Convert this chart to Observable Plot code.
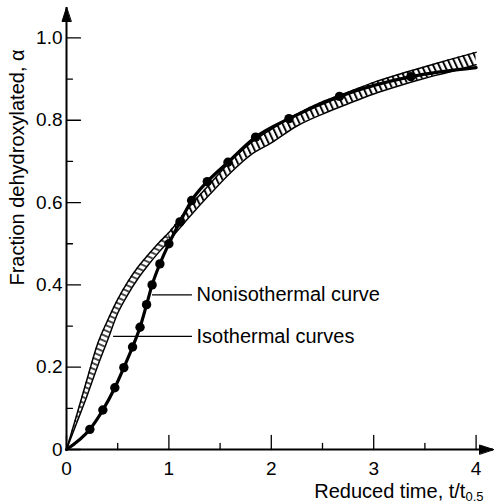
<!DOCTYPE html>
<html><head><meta charset="utf-8">
<script src="https://cdn.jsdelivr.net/npm/d3@7"></script>
<script src="https://cdn.jsdelivr.net/npm/@observablehq/plot@0.6"></script>
<style>
html,body{margin:0;padding:0;background:#fff;}
#chart svg{display:block;}
</style></head><body><div id="chart"></div>
<script>
// Isothermal curves: hatched band between an upper and a lower curve
const bandT     = [0, 0.1, 0.2, 0.3, 0.4, 0.5, 0.6, 0.7, 0.8, 0.9, 1.0, 1.2, 1.4, 1.6, 1.8, 2.0, 2.25, 2.5, 2.75, 3.0, 3.25, 3.5, 3.75, 4.0];
const bandUpper = [0, 0.084, 0.170, 0.254, 0.313, 0.365, 0.408, 0.444, 0.474, 0.502, 0.527, 0.590, 0.645, 0.700, 0.745, 0.778, 0.815, 0.845, 0.868, 0.892, 0.912, 0.930, 0.948, 0.965];
const bandLower = [0, 0.065, 0.130, 0.200, 0.265, 0.331, 0.377, 0.416, 0.449, 0.479, 0.507, 0.565, 0.620, 0.672, 0.716, 0.745, 0.786, 0.815, 0.840, 0.864, 0.884, 0.902, 0.918, 0.935];

// Nonisothermal curve: measured points (filled circles)
const markerT     = [0.228, 0.355, 0.472, 0.560, 0.645, 0.718, 0.782, 0.836, 0.912, 1.000, 1.108, 1.222, 1.375, 1.577, 1.847, 2.173, 2.666, 3.363];
const markerAlpha = [0.049, 0.096, 0.150, 0.199, 0.249, 0.297, 0.352, 0.400, 0.451, 0.500, 0.553, 0.605, 0.651, 0.698, 0.759, 0.804, 0.858, 0.906];
// curve end points (no marker)
const curveStart = [0, 0];
const curveEnd   = [4.0, 0.928];

// Axes
const xMajorTicks = [0, 1, 2, 3, 4];
const xTickLabels = ["0", "1", "2", "3", "4"];
const xMinorTicks = [0.5, 1.5, 2.5, 3.5];
const yMajorTicks = [0, 0.2, 0.4, 0.6, 0.8, 1.0];
const yTickLabels = ["0", "0.2", "0.4", "0.6", "0.8", "1.0"];
const yMinorTicks = [0.1, 0.3, 0.5, 0.7, 0.9];
const xAxisEnd = 4.17;
const yAxisEnd = 1.074;

// Annotation labels with leader lines
const annoLabels = ["Nonisothermal curve", "Isothermal curves"];
const annoY      = [0.3755, 0.275];
const annoX1     = [0.84, 0.46];
const annoX2     = [1.23, 1.23];
const annoTextX  = [1.27, 1.27];

const yTitle = "Fraction dehydroxylated, α";
const xTitle = "Reduced time, t/t";
const xTitleSub = "0.5";

// ---- build tables ----
const band = bandT.map((t, i) => ({t, upper: bandUpper[i], lower: bandLower[i]}));
const markers = markerT.map((t, i) => ({t, a: markerAlpha[i]}));
const curve = [{t: curveStart[0], a: curveStart[1]}, ...markers, {t: curveEnd[0], a: curveEnd[1]}];
const anno = annoLabels.map((label, i) => ({label, y: annoY[i], x1: annoX1[i], x2: annoX2[i], tx: annoTextX[i]}));

const tickShape = {draw(ctx, l) { ctx.moveTo(0, 0); ctx.lineTo(0, -l); }};
const arrowShape = {draw(ctx) { ctx.moveTo(0, 0); ctx.lineTo(-4.5, 14); ctx.lineTo(4.5, 14); ctx.closePath(); }};

const FONT = "'Liberation Sans', Arial, sans-serif";

const chart = Plot.plot({
  width: 495,
  height: 503,
  marginLeft: 66,
  marginRight: 2,
  marginTop: 7,
  marginBottom: 54,
  style: {fontFamily: FONT, fontSize: "19px", background: "white", color: "black"},
  x: {domain: [0, xAxisEnd]},
  y: {domain: [0, yAxisEnd]},
  marks: [
    // hatched band (steep part and flat part)
    Plot.areaY(band.filter(d => d.t <= 1), {x: "t", y1: "lower", y2: "upper", fill: "url(#hatchA)", curve: "monotone-x"}),
    Plot.areaY(band.filter(d => d.t >= 1), {x: "t", y1: "lower", y2: "upper", fill: "url(#hatchB)", curve: "monotone-x"}),
    Plot.line(band, {x: "t", y: "upper", stroke: "black", strokeWidth: 1.5, curve: "monotone-x"}),
    Plot.line(band, {x: "t", y: "lower", stroke: "black", strokeWidth: 1.5, curve: "monotone-x"}),
    // nonisothermal curve
    Plot.line(curve, {x: "t", y: "a", stroke: "black", strokeWidth: 3.2, curve: "monotone-x"}),
    Plot.dot(markers, {x: "t", y: "a", r: 4.7, fill: "black", stroke: "none"}),
    // axes lines + arrows
    Plot.ruleX([0], {stroke: "black", strokeWidth: 2}),
    Plot.ruleY([0], {stroke: "black", strokeWidth: 2}),
    Plot.vector([0], {x: 0, y: yAxisEnd, length: 0, anchor: "start", shape: arrowShape, fill: "black", stroke: "black", strokeWidth: 1}),
    Plot.vector([0], {x: xAxisEnd, y: 0, length: 0, anchor: "start", rotate: 90, shape: arrowShape, fill: "black", stroke: "black", strokeWidth: 1}),
    // inward ticks
    Plot.vector(yMajorTicks, {x: 0, y: d => d, length: 14, rotate: 90, anchor: "start", shape: tickShape, stroke: "black", strokeWidth: 1.3}),
    Plot.vector(yMinorTicks, {x: 0, y: d => d, length: 6, rotate: 90, anchor: "start", shape: tickShape, stroke: "black", strokeWidth: 1.3}),
    Plot.vector(xMajorTicks, {x: d => d, y: 0, length: 14, anchor: "start", shape: tickShape, stroke: "black", strokeWidth: 1.3}),
    Plot.vector(xMinorTicks, {x: d => d, y: 0, length: 6, anchor: "start", shape: tickShape, stroke: "black", strokeWidth: 1.3}),
    // tick labels
    Plot.axisY(yMajorTicks, {tickSize: 0, tickPadding: 4, fontSize: 19, tickFormat: d => yTickLabels[yMajorTicks.indexOf(d)], label: null}),
    Plot.axisX(xMajorTicks, {tickSize: 0, tickPadding: 12, fontSize: 19, tickFormat: d => xTickLabels[xMajorTicks.indexOf(d)], label: null}),
    // annotations
    Plot.ruleY(anno, {y: "y", x1: "x1", x2: "x2", stroke: "black", strokeWidth: 1.2}),
    Plot.text(anno, {x: "tx", y: "y", text: "label", textAnchor: "start", lineAnchor: "middle", fontSize: 20}),
    // axis titles
    Plot.text([yTitle], {text: d => d, frameAnchor: "top-left", rotate: -90, dx: -49, dy: 160, textAnchor: "middle", lineAnchor: "middle", fontSize: 20}),
    Plot.text([xTitle], {text: d => d, frameAnchor: "bottom-right", dx: -10, dy: 41.6, textAnchor: "end", lineAnchor: "middle", fontSize: 20})
  ]
});

// hatch patterns
d3.select(chart).insert("defs", ":first-child").html(`
  <pattern id="hatchA" patternUnits="userSpaceOnUse" width="5" height="10" patternTransform="rotate(-66)">
    <rect width="5" height="10" fill="white"/>
    <line x1="1" y1="-1" x2="1" y2="11" stroke="black" stroke-width="1.4"/>
  </pattern>
  <pattern id="hatchB" patternUnits="userSpaceOnUse" width="5.2" height="10" patternTransform="rotate(-25)">
    <rect width="5.2" height="10" fill="white"/>
    <line x1="1" y1="-1" x2="1" y2="11" stroke="black" stroke-width="1.9"/>
  </pattern>`);

// subscript for x title
const xt = Array.from(chart.querySelectorAll("text")).find(el => el.textContent === xTitle);
if (xt) {
  d3.select(xt).append("tspan").attr("dy", 3).attr("font-size", 13).text(xTitleSub);
}

document.getElementById("chart").appendChild(chart);
</script>
</body></html>
